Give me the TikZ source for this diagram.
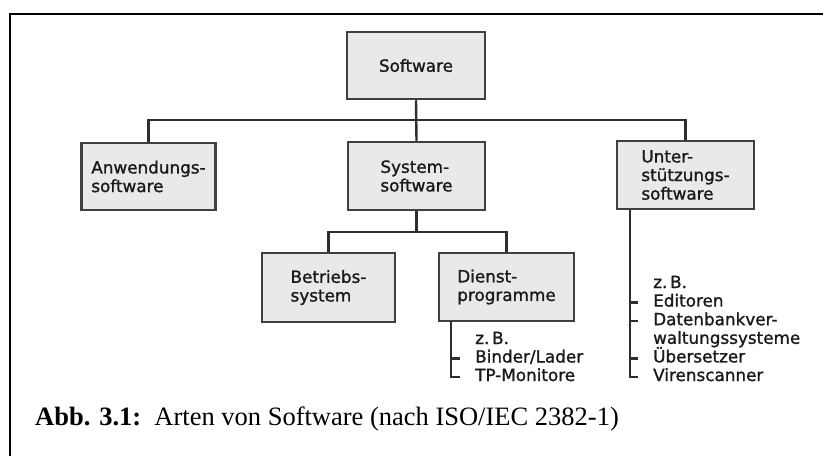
\documentclass[tikz,border=0pt]{standalone}
\usepackage{fontspec}
\setmainfont{Liberation Serif}
\newfontfamily\boxfont{DejaVu Sans}[FakeBold=1.2]
\usetikzlibrary{calc}
\definecolor{boxfill}{HTML}{E9E9E9}
\definecolor{boxline}{HTML}{404040}
\definecolor{lineink}{HTML}{2E2E2E}
\definecolor{ink}{HTML}{1A1A1A}
\begin{document}
\begin{tikzpicture}[x=1pt,y=-1pt,
  box/.style={draw=boxline, fill=boxfill, line width=2.5pt, inner sep=0pt,
    align=left, text=ink, font=\boxfont\fontsize{16.8}{18.6}\selectfont},
  conn/.style={draw=lineink, line width=2.4pt},
  item/.style={anchor=base west, inner sep=0pt, text=ink,
    font=\boxfont\fontsize{16.8}{18.6}\selectfont},
  frameline/.style={draw=black, line width=2.7pt}]
\useasboundingbox (0,0) rectangle (823,456);
\fill[white] (0,0) rectangle (823,456);
\draw[frameline] (10,456) -- (10,14) -- (823,14);

% boxes
\node[box, minimum width=138pt, minimum height=67pt] (sw)  at (416,65.5)  {Software};
\node[box, minimum width=134pt, minimum height=67pt] (anw) at (148.5,176.5) {Anwendungs-\\software};
\node[box, minimum width=137pt, minimum height=68pt] (sys) at (416.5,176) {System-\\software};
\node[box, minimum width=137pt, minimum height=68pt] (unt) at (685.5,175) {Unter-\\stützungs-\\software};
\node[box, minimum width=133pt, minimum height=69pt] (bet) at (328.5,287.5) {Betriebs-\\system};
\node[box, minimum width=135pt, minimum height=68pt] (die) at (506.5,287) {Dienst-\\programme};

% tree connectors
\coordinate (bus) at (416,120);
\draw[conn] (sw.south) -- (sys.north);
\draw[conn] (anw.north) |- (bus) -| (unt.north);
\coordinate (bus2) at (416.5,232);
\draw[conn] (sys.south) -- (bus2);
\draw[conn] (bet.north) |- (bus2) -| (die.north);

% Dienstprogramme examples
\node[item] (d0) at (475,344) {z.\,B.};
\node[item] (d1) at (475,362.5) {Binder/Lader};
\node[item] (d2) at (475,381) {TP-Monitore};
\coordinate (dtop) at ($(die.south west)+(13,0)$);
\coordinate (dt1) at ($(d1.base west)+(-15,-4)$);
\coordinate (dt2) at ($(d2.base west)+(-15,-4)$);
\draw[conn] (dtop) |- (dt2);
\draw[conn] (dt1 -| dtop) -- (dt1);

% Unterstuetzungssoftware examples
\node[item] (u0) at (653,288) {z.\,B.};
\node[item] (u1) at (653,306.6) {Editoren};
\node[item] (u2) at (653,325.2) {Datenbankver-};
\node[item] (u3) at (653,343.8) {waltungssysteme};
\node[item] (u4) at (653,362.4) {Übersetzer};
\node[item] (u5) at (653,381) {Virenscanner};
\coordinate (utop) at ($(unt.south west)+(14,0)$);
\coordinate (ut1) at ($(u1.base west)+(-15,-4)$);
\coordinate (ut2) at ($(u2.base west)+(-15,-4)$);
\coordinate (ut4) at ($(u4.base west)+(-15,-4)$);
\coordinate (ut5) at ($(u5.base west)+(-15,-4)$);
\draw[conn] (utop) |- (ut5);
\draw[conn] (ut1 -| utop) -- (ut1);
\draw[conn] (ut2 -| utop) -- (ut2);
\draw[conn] (ut4 -| utop) -- (ut4);

% caption
\node[anchor=base west, inner sep=0pt, text=black, font=\fontsize{26.5}{31}\selectfont] (cap) at (35,425)
  {\textbf{Abb. 3.1:}\ \ Arten von Software (nach ISO/IEC 2382-1)};
\end{tikzpicture}
\end{document}
